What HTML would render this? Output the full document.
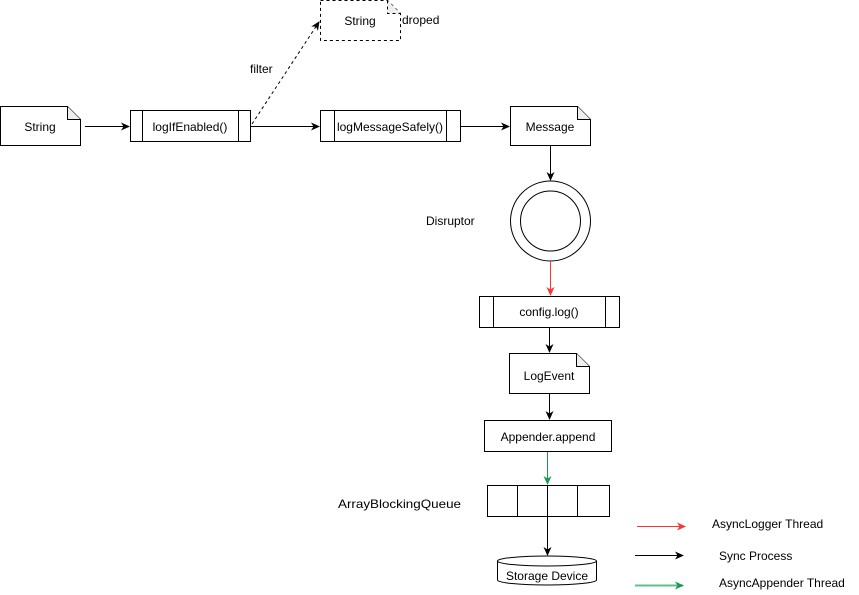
<!DOCTYPE html>
<html><head><meta charset="utf-8"><style>html,body{margin:0;padding:0;background:#fff}svg{display:block}text{font-family:"Liberation Sans",sans-serif;font-size:12px;fill:#000}</style></head>
<body>
<svg width="859" height="595" viewBox="0 0 859 595" xmlns="http://www.w3.org/2000/svg">
<defs>
<marker id="ab" markerWidth="10" markerHeight="10" refX="8" refY="5" orient="auto" markerUnits="userSpaceOnUse"><path d="M0,1 L9,5 L0,9 L2.5,5 Z" fill="#000"/></marker>
<marker id="ar" markerWidth="10" markerHeight="10" refX="8" refY="5" orient="auto" markerUnits="userSpaceOnUse"><path d="M0,1 L9,5 L0,9 L2.5,5 Z" fill="#f33"/></marker>
<marker id="ag" markerWidth="10" markerHeight="10" refX="8" refY="5" orient="auto" markerUnits="userSpaceOnUse"><path d="M0,1 L9,5 L0,9 L2.5,5 Z" fill="#1a9a50"/></marker>
</defs>
<g fill="#fff" stroke="#000" stroke-width="1">
<path d="M0.5,106.5 H67.5 L80.5,119.5 V145.5 H0.5 Z"/><path d="M67.5,106.5 V119.5 H80.5" fill="#eee"/>
<rect x="130.5" y="110.5" width="120" height="31"/><line x1="142.5" y1="110.5" x2="142.5" y2="141.5"/><line x1="238.5" y1="110.5" x2="238.5" y2="141.5"/>
<path d="M320.5,0.5 H387.5 L400.5,13.5 V40.5 H320.5 Z" stroke-dasharray="3,3"/><path d="M387.5,0.5 V13.5 H400.5" stroke-dasharray="3,3" fill="#eee"/>
<rect x="320.5" y="110.5" width="140" height="31"/><line x1="334.5" y1="110.5" x2="334.5" y2="141.5"/><line x1="446.5" y1="110.5" x2="446.5" y2="141.5"/>
<path d="M510.5,106.5 H577.5 L590.5,119.5 V145.5 H510.5 Z"/><path d="M577.5,106.5 V119.5 H590.5" fill="#eee"/>
<circle cx="550.5" cy="221" r="40"/><circle cx="550.5" cy="221" r="30"/>
<rect x="479.5" y="296.5" width="140" height="31"/><line x1="493.5" y1="296.5" x2="493.5" y2="327.5"/><line x1="605.5" y1="296.5" x2="605.5" y2="327.5"/>
<path d="M509.5,353.5 H576.5 L589.5,366.5 V393.5 H509.5 Z"/><path d="M576.5,353.5 V366.5 H589.5" fill="#eee"/>
<rect x="484.5" y="420.5" width="127" height="31"/>
<rect x="487.5" y="485.5" width="122" height="31"/><line x1="517.5" y1="485.5" x2="517.5" y2="516.5"/><line x1="547.5" y1="485.5" x2="547.5" y2="516.5"/><line x1="577.5" y1="485.5" x2="577.5" y2="516.5"/>
<path d="M497.5,561 V580 A49.5,5 0 0 0 596.5,580 V561"/><ellipse cx="547" cy="561" rx="49.5" ry="5"/>
</g>
<g fill="none" stroke="#000" stroke-width="1">
<line x1="85" y1="126.5" x2="129" y2="126.5" marker-end="url(#ab)"/>
<line x1="251" y1="126.5" x2="319" y2="126.5" marker-end="url(#ab)"/>
<line x1="252" y1="124" x2="319" y2="22" stroke-dasharray="3,3" marker-end="url(#ab)"/>
<line x1="461" y1="126.5" x2="509" y2="126.5" marker-end="url(#ab)"/>
<line x1="550.5" y1="146" x2="550.5" y2="180" marker-end="url(#ab)"/>
<line x1="550.5" y1="261" x2="550.5" y2="295" stroke="#f33" marker-end="url(#ar)"/>
<line x1="549.5" y1="328" x2="549.5" y2="352" marker-end="url(#ab)"/>
<line x1="549.5" y1="394" x2="549.5" y2="419" marker-end="url(#ab)"/>
<line x1="547.5" y1="452" x2="547.5" y2="484" stroke="#1a9a50" marker-end="url(#ag)"/>
<line x1="547.5" y1="517" x2="547.5" y2="555" marker-end="url(#ab)"/>
<line x1="637" y1="526.5" x2="685" y2="526.5" stroke="#f33" marker-end="url(#ar)"/>
<line x1="635" y1="555.5" x2="683" y2="555.5" marker-end="url(#ab)"/>
<line x1="635" y1="585.5" x2="683" y2="585.5" stroke="#5cc08a" stroke-width="2" marker-end="url(#ag)"/>
</g>
<text x="40" y="131" text-anchor="middle">String</text>
<text x="190" y="131" text-anchor="middle">logIfEnabled()</text>
<text x="360" y="25" text-anchor="middle">String</text>
<text x="402" y="24">droped</text>
<text x="250" y="73">filter</text>
<text x="390" y="131" text-anchor="middle">logMessageSafely()</text>
<text x="550" y="131" text-anchor="middle">Message</text>
<text x="426" y="225">Disruptor</text>
<text x="549" y="316" text-anchor="middle">config.log()</text>
<text x="549" y="380" text-anchor="middle">LogEvent</text>
<text x="548" y="441" text-anchor="middle">Appender.append</text>
<text x="338" y="508" textLength="123" lengthAdjust="spacingAndGlyphs">ArrayBlockingQueue</text>
<text x="547" y="580" text-anchor="middle">Storage Device</text>
<text x="712" y="528">AsyncLogger Thread</text>
<text x="719" y="560">Sync Process</text>
<text x="719" y="587">AsyncAppender Thread</text>
</svg>
</body></html>
